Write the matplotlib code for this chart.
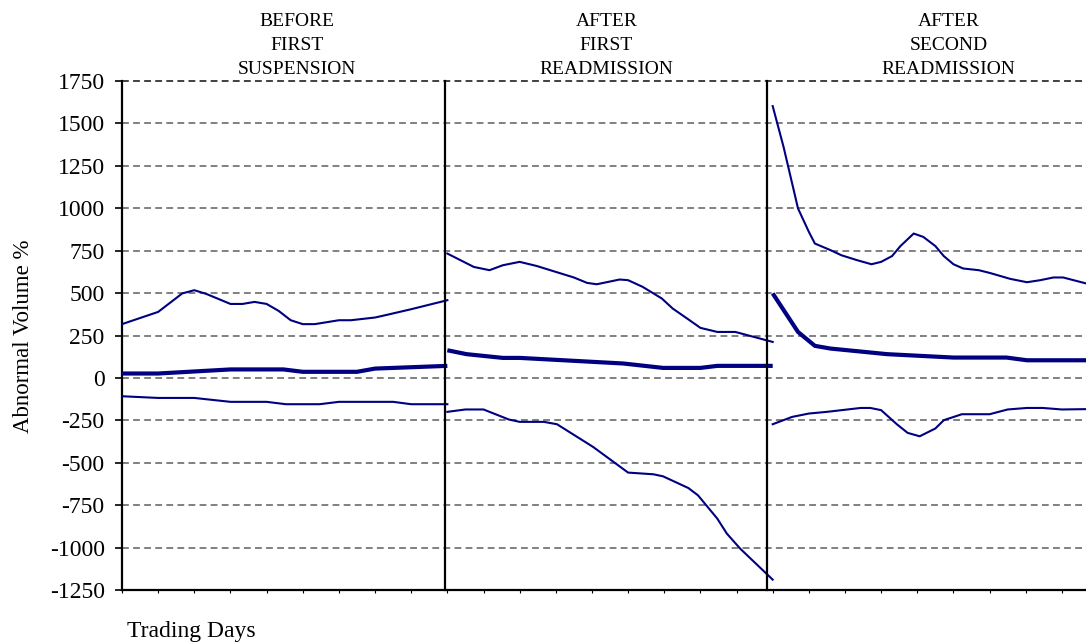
import matplotlib
matplotlib.use("Agg")
import matplotlib.pyplot as plt
from matplotlib.ticker import FuncFormatter

# ---- data (trading-day index, abnormal volume %) ----
p1_upper_x = [0, 3, 5, 6, 7, 9, 10, 11, 12, 13, 14, 15, 16, 18, 19, 21, 22, 24, 27]
p1_upper_y = [317, 389, 498, 517, 495, 436, 436, 448, 436, 395, 340, 317, 317, 340, 340, 356, 372, 405, 458]
p1_mean_x = [0, 3, 9, 13.4, 15, 19.5, 21, 27]
p1_mean_y = [26, 26, 50, 50, 36, 36, 55, 71]
p1_lower_x = [0, 3, 6, 9, 12, 13.6, 16.4, 18, 22.5, 24, 27]
p1_lower_y = [-108, -118, -118, -141, -141, -155, -155, -141, -141, -155, -155]

p2_upper_x = [27, 29.2, 30.5, 31.6, 33, 34.4, 37.5, 38.6, 39.4, 41.3, 42, 43.2, 44.8, 45.7, 46.9, 48, 49.4, 50.9, 54]
p2_upper_y = [733, 654, 635, 664, 684, 660, 592, 560, 552, 580, 576, 537, 468, 409, 350, 295, 271, 271, 212]
p2_mean_x = [27, 28.6, 31.6, 33, 41.6, 44.9, 48, 49.4, 54]
p2_mean_y = [163, 140, 118, 118, 85, 59, 59, 71, 71]
p2_lower_x = [27, 28.5, 30, 32.1, 33, 35, 36.1, 39.1, 42, 44.1, 44.9, 47, 47.8, 49.4, 50.2, 51.3, 54]
p2_lower_y = [-200, -186, -186, -245, -259, -259, -273, -407, -558, -568, -580, -649, -692, -829, -918, -1006, -1189]

p3_upper_x = [54, 54.9, 56.1, 57, 57.5, 58.8, 59.7, 61, 62.2, 63, 63.9, 64.6, 65.7, 66.5, 67.5, 68.2, 69,
              69.8, 71.1, 72, 73.7, 75.1, 76.2, 77.3, 78.1, 80]
p3_upper_y = [1602, 1362, 999, 861, 792, 753, 723, 694, 670, 684, 718, 777, 851, 831, 777, 718, 670,
              645, 635, 619, 584, 564, 576, 592, 592, 557]
p3_mean_x = [54, 56.1, 57.5, 58.8, 63.5, 69, 73.4, 75.1, 80]
p3_mean_y = [498, 271, 189, 173, 140, 120, 120, 104, 104]
p3_lower_x = [54, 55.6, 57, 58.5, 61.3, 62.1, 63, 64.3, 65.2, 66.2, 67.5, 68.2, 69.7, 72, 73.5, 75.1, 76.4, 78, 80]
p3_lower_y = [-273, -230, -210, -200, -177, -177, -190, -273, -324, -344, -298, -249, -214, -214, -186, -177, -177, -186, -184]

panel_titles = [["BEFORE", "FIRST", "SUSPENSION"],
                ["AFTER", "FIRST", "READMISSION"],
                ["AFTER", "SECOND", "READMISSION"]]
title_x = [14.5, 40.2, 68.6]
dividers = [26.8, 53.5]
y_ticks = [1750, 1500, 1250, 1000, 750, 500, 250, 0, -250, -500, -750, -1000, -1250]

plt.rcParams['font.family'] = ['Liberation Serif', 'DejaVu Serif']

W, H = 1086, 642
fig = plt.figure(figsize=(W / 100, H / 100), dpi=100)
ax = fig.add_axes([122 / W, 1 - 590 / H, 1 - 122 / W, (590 - 81) / H])

navy = '#000080'
for xs, ys in [(p1_upper_x, p1_upper_y), (p1_lower_x, p1_lower_y),
               (p2_upper_x, p2_upper_y), (p2_lower_x, p2_lower_y),
               (p3_upper_x, p3_upper_y), (p3_lower_x, p3_lower_y)]:
    ax.plot(xs, ys, color=navy, lw=1.5, zorder=3)
for xs, ys in [(p1_mean_x, p1_mean_y), (p2_mean_x, p2_mean_y), (p3_mean_x, p3_mean_y)]:
    ax.plot(xs, ys, color=navy, lw=3.0, zorder=3, solid_capstyle='butt')

ax.set_xlim(0, 80)
ax.set_ylim(-1250, 1750)

for v in y_ticks:
    if v == -1250:
        continue
    col = '#404040' if v == 1750 else '#808080'
    ax.axhline(v, color=col, lw=1.4, linestyle=(0, (3.5, 2.2)), zorder=1, clip_on=False)

for d in dividers:
    ax.axvline(d, color='black', lw=1.6, zorder=4, clip_on=False)

for s in ['top', 'right']:
    ax.spines[s].set_visible(False)
for s in ['left', 'bottom']:
    ax.spines[s].set_linewidth(1.6)
    ax.spines[s].set_color('black')

ax.set_yticks(y_ticks)
ax.yaxis.set_major_formatter(FuncFormatter(lambda v, p: f"{int(v)}"))
ax.tick_params(axis='y', direction='out', length=5, width=1.2, pad=7.5, labelsize=17)
ax.set_xticks(list(range(0, 81, 3)))
ax.set_xticklabels([])
ax.tick_params(axis='x', direction='out', length=2.5, width=0.8)

fig.text(24 / W, 1 - 336 / H, "Abnormal Volume %", fontsize=16.5, rotation=90,
         ha='center', va='center')

line_y = [22, 46, 70]
for lines, xt in zip(panel_titles, title_x):
    xf = (122 + xt * (W - 122) / 80) / W
    for ln, py in zip(lines, line_y):
        fig.text(xf, 1 - py / H, ln, ha='center', va='center', fontsize=14)

fig.text(127 / W, 1 - 637 / H, "Trading Days", fontsize=17, ha='left', va='baseline')

fig.savefig("out.png", dpi=100)
